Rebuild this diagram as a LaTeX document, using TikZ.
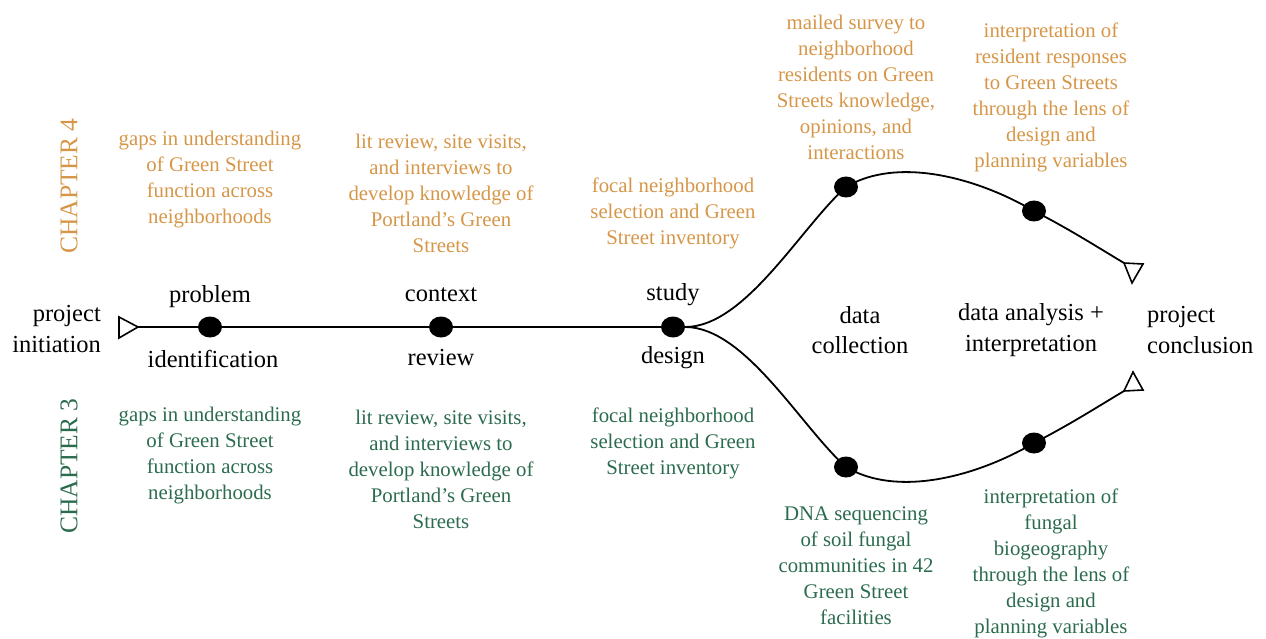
\documentclass[tikz,border=0pt]{standalone}
\usepackage{fontspec}
\setmainfont{Liberation Serif}
\usetikzlibrary{shapes.geometric}
\definecolor{chfour}{RGB}{214,150,72}
\definecolor{chthree}{RGB}{44,108,78}
\begin{document}
\begin{tikzpicture}[x=1pt,y=-1pt,
  dot/.style={ellipse,fill=black,minimum width=24pt,minimum height=21pt,inner sep=0pt},
  path/.style={line width=1.8pt,black},
  tri/.style={line width=1.6pt,black,line join=miter},
  stage/.style={font=\fontsize{24.5}{30.5}\selectfont,align=center,inner sep=0pt},
  note/.style={font=\fontsize{20.8}{26}\selectfont,align=center,inner sep=0pt},
  four/.style={note,text=chfour},
  three/.style={note,text=chthree},
  chap/.style={font=\fontsize{25.5}{28}\selectfont,rotate=90,inner sep=0pt}]
\useasboundingbox (0,0) rectangle (1266,639);

% main line dots
\node[dot] (p) at (210,327) {};
\node[dot] (c) at (441,327) {};
\node[dot] (s) at (673,327) {};
% upper branch dots
\node[dot] (u1) at (846,187) {};
\node[dot] (u2) at (1034,211) {};
% lower branch dots
\node[dot] (l1) at (846,467) {};
\node[dot] (l2) at (1034,443) {};

% start and end markers
\coordinate (st) at (138,327);
\coordinate (ue) at (1124,263);
\coordinate (le) at (1124,391);
\draw[tri] (st) -- (119,317) -- (119,338) -- cycle;
\draw[tri] (ue) -- (1143,264) -- (1132,283) -- cycle;
\draw[tri] (le) -- (1143,390) -- (1133,372) -- cycle;

% connectors
\draw[path] (st) -- (p) -- (c) -- (s);
\draw[path] (s.east) .. controls +(60,0) and +(-45,40) .. (u1.center)
  .. controls +(50,-30) and +(-60,-35) .. (u2.center)
  .. controls +(35,18) and +(-30,-18) .. (ue);
\draw[path] (s.east) .. controls +(60,0) and +(-45,-40) .. (l1.center)
  .. controls +(50,30) and +(-60,35) .. (l2.center)
  .. controls +(35,-18) and +(-30,18) .. (le);

% stage labels
\node[stage,anchor=east,align=right] (pi) at (101,329) {project\\initiation};
\node[stage] (pt) at (210,297) {problem};
\node[stage] (pb) at (213,359) {identification};
\node[stage] (ct) at (441,295) {context};
\node[stage] (cb) at (441,358) {review};
\node[stage] (stt) at (673,295) {study};
\node[stage] (sb) at (673,358) {design};
\node[stage] (dc) at (860,330) {data\\collection};
\node[stage] (da) at (1031,330) {data analysis +\\interpretation};
\node[stage,anchor=west,align=left] (pc) at (1147,330) {project\\conclusion};

% chapter labels
\node[chap,text=chfour] (ch4) at (69,186) {CHAPTER 4};
\node[chap,text=chthree] (ch3) at (69,466) {CHAPTER 3};

% chapter 4 notes
\node[four] (a1) at (210,180) {gaps in understanding\\of Green Street\\function across\\neighborhoods};
\node[four] (a2) at (441,193) {lit review, site visits,\\and interviews to\\develop knowledge of\\Portland’s Green\\Streets};
\node[four] (a3) at (673,213) {focal neighborhood\\selection and Green\\Street inventory};
\node[four] (a4) at (856,87) {mailed survey to\\neighborhood\\residents on Green\\Streets knowledge,\\opinions, and\\interactions};
\node[four] (a5) at (1051,97) {interpretation of\\resident responses\\to Green Streets\\through the lens of\\design and\\planning variables};

% chapter 3 notes
\node[three] (b1) at (210,456) {gaps in understanding\\of Green Street\\function across\\neighborhoods};
\node[three] (b2) at (441,469) {lit review, site visits,\\and interviews to\\develop knowledge of\\Portland’s Green\\Streets};
\node[three] (b3) at (673,443) {focal neighborhood\\selection and Green\\Street inventory};
\node[three] (b4) at (856,566) {DNA sequencing\\of soil fungal\\communities in 42\\Green Street\\facilities};
\node[three] (b5) at (1051,563) {interpretation of\\fungal\\biogeography\\through the lens of\\design and\\planning variables};
\end{tikzpicture}
\end{document}
